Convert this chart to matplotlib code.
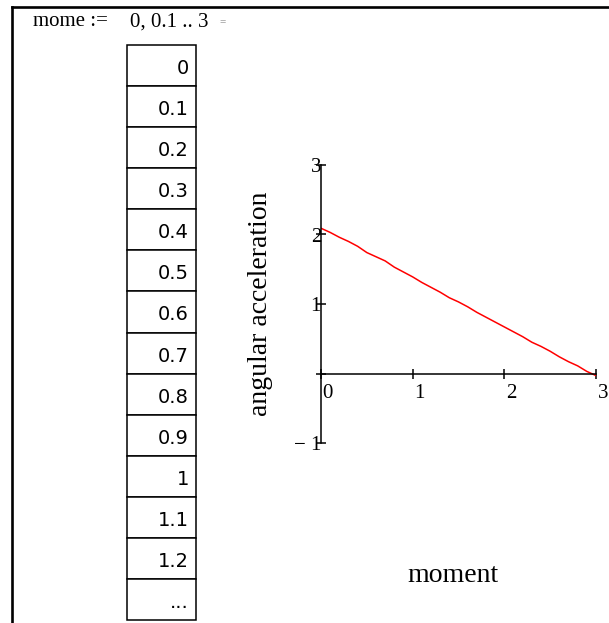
import matplotlib
matplotlib.use("Agg")
import matplotlib.pyplot as plt
from matplotlib import transforms

moment = [round(0.1 * i, 1) for i in range(31)]
ang_acc = [2.09, 2.03, 1.96, 1.90, 1.83, 1.74, 1.68, 1.62, 1.53, 1.46,
           1.39, 1.31, 1.24, 1.17, 1.09, 1.03, 0.96, 0.88, 0.81, 0.74,
           0.67, 0.60, 0.53, 0.45, 0.39, 0.32, 0.24, 0.17, 0.11, 0.03, -0.03]
table_values = ["0", "0.1", "0.2", "0.3", "0.4", "0.5", "0.6", "0.7",
                "0.8", "0.9", "1", "1.1", "1.2", "..."]
x_ticks = [0, 1, 2, 3]
y_ticks = [-1, 0, 1, 2, 3]
y_tick_labels = ["\u2212 1", "", "1", "2", "3"]

W, H = 609, 623
fig = plt.figure(figsize=(W / 100, H / 100), dpi=100)

serif = "Liberation Serif"

# Worksheet region frame (left + top edges)
frame = fig.add_axes([12 / W, 0, 1 - 12 / W, (H - 7) / H])
frame.set_xticks([])
frame.set_yticks([])
frame.patch.set_alpha(0)
for s in ["right", "bottom"]:
    frame.spines[s].set_visible(False)
for s in ["left", "top"]:
    frame.spines[s].set_linewidth(1.9)

# Range variable definition
fig.text(33 / W, 1 - 22 / H, "mome :=", family=serif, fontsize=15, va="center")
fig.text(130 / W, 1 - 22 / H, "0, 0.1 .. 3", family=serif, fontsize=15, va="center")
fig.text(219 / W, 1 - 22 / H, "=", family=serif, fontsize=8, va="center", color="#777777")

# Output table
tab_ax = fig.add_axes([127 / W, 3 / H, 69 / W, 575 / H])
tab_ax.axis("off")
tbl = tab_ax.table(cellText=[[v] for v in table_values], cellLoc="right",
                   bbox=[0, 0, 1, 1])
tbl.auto_set_font_size(False)
down = transforms.ScaledTranslation(0, -3 / 100, fig.dpi_scale_trans)
for (r, c), cell in tbl.get_celld().items():
    cell.set_linewidth(1.1)
    cell.set_edgecolor("black")
    cell.PAD = 0.1
    txt = cell.get_text()
    txt.set_fontsize(14)
    txt.set_family("DejaVu Sans")
    txt.set_transform(txt.get_transform() + down)

# Plot
ax = fig.add_axes([321 / W, (H - 443) / H, 275 / W, 278 / H])
ax.plot(moment, ang_acc, color="red", linewidth=1.1)
ax.set_xlim(0, 3)
ax.set_ylim(-1, 3)
ax.spines["left"].set_position(("data", 0))
ax.spines["bottom"].set_position(("data", 0))
ax.spines["top"].set_visible(False)
ax.spines["right"].set_visible(False)
for s in ["left", "bottom"]:
    ax.spines[s].set_linewidth(1.1)
ax.patch.set_alpha(0)

ax.set_xticks(x_ticks)
ax.set_xticklabels([str(t) for t in x_ticks], family=serif, fontsize=15)
ax.set_yticks(y_ticks)
ax.set_yticklabels(y_tick_labels, family=serif, fontsize=15)
ax.tick_params(axis="both", direction="inout", length=7, width=1.1)
ax.tick_params(axis="x", pad=4)
ax.tick_params(axis="y", pad=-3.5)

shift = transforms.ScaledTranslation(1.5 / 100, 0, fig.dpi_scale_trans)
for lbl in ax.get_xticklabels():
    lbl.set_horizontalalignment("left")
    lbl.set_transform(lbl.get_transform() + shift)

ax.set_ylabel("angular acceleration", family=serif, fontsize=20)
ax.yaxis.set_label_coords(-0.175, 0.5)
ax.set_xlabel("moment", family=serif, fontsize=20)
ax.xaxis.set_label_coords(0.48, -0.43)

fig.savefig("out.png", dpi=100)
